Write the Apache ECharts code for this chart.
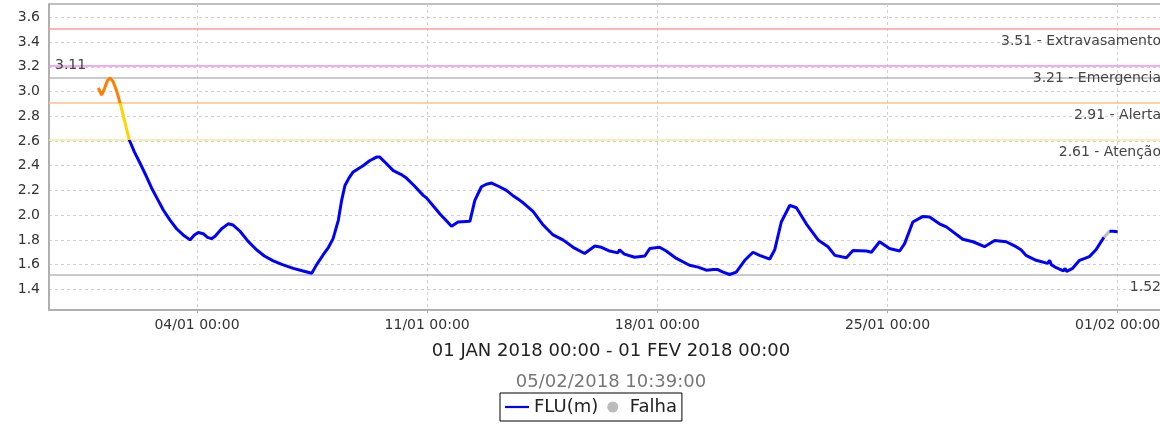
<!DOCTYPE html>
<html>
<head>
<meta charset="utf-8">
<script src="https://cdn.jsdelivr.net/npm/echarts@6/dist/echarts.min.js"></script>
<style>
html,body{margin:0;padding:0;background:#fff;}
#chart{width:1160px;height:428px;}
</style>
</head>
<body>
<div id="chart"></div>
<script>
// Days since 2018-01-01 00:00 and river level (m)
const fluDays = [0.00,0.05,0.10,0.18,0.28,0.36,0.45,0.55,0.66,0.80,0.94,1.10,1.27,1.45,1.62,1.80,1.98,2.18,2.38,2.58,2.79,2.92,3.04,3.19,3.32,3.44,3.55,3.75,3.95,4.10,4.31,4.55,4.81,5.05,5.32,5.60,5.93,6.20,6.49,6.64,6.84,7.00,7.14,7.30,7.40,7.50,7.62,7.75,8.05,8.25,8.46,8.56,8.75,8.97,9.20,9.37,9.60,9.88,9.98,10.20,10.39,10.60,10.74,10.94,11.30,11.45,11.65,11.80,11.96,12.20,12.41,12.60,12.82,12.92,13.22,13.53,13.83,14.13,14.44,14.79,15.10,15.30,15.55,15.80,15.85,16.00,16.31,16.62,16.77,17.07,17.27,17.58,17.98,18.24,18.49,18.70,18.84,19.00,19.20,19.40,19.66,19.91,20.11,20.42,20.57,20.77,21.03,21.23,21.53,21.89,22.19,22.40,22.75,22.95,23.36,23.51,23.76,24.06,24.37,24.52,24.77,25.08,25.28,25.58,25.79,26.29,26.60,26.95,27.26,27.61,27.91,28.06,28.21,28.52,28.87,28.93,28.98,29.13,29.35,29.40,29.45,29.63,29.84,30.14,30.34,30.58,30.66,30.75,30.85,31.00];
const fluLevels = [3.03,3.00,2.97,3.02,3.09,3.11,3.08,3.01,2.91,2.76,2.61,2.51,2.42,2.32,2.22,2.13,2.04,1.96,1.89,1.84,1.80,1.84,1.86,1.85,1.82,1.81,1.83,1.89,1.93,1.92,1.87,1.79,1.72,1.67,1.63,1.60,1.57,1.55,1.53,1.60,1.68,1.74,1.81,1.96,2.12,2.24,2.30,2.35,2.40,2.44,2.47,2.47,2.42,2.36,2.33,2.30,2.24,2.16,2.14,2.07,2.01,1.95,1.91,1.945,1.95,2.12,2.23,2.25,2.26,2.23,2.20,2.16,2.12,2.10,2.03,1.92,1.84,1.80,1.74,1.69,1.75,1.74,1.71,1.695,1.72,1.685,1.66,1.67,1.73,1.74,1.71,1.65,1.595,1.58,1.555,1.56,1.56,1.54,1.52,1.54,1.635,1.70,1.675,1.645,1.72,1.945,2.08,2.06,1.93,1.80,1.745,1.675,1.655,1.715,1.71,1.70,1.785,1.73,1.71,1.77,1.945,1.99,1.985,1.93,1.905,1.805,1.785,1.745,1.795,1.785,1.745,1.72,1.675,1.635,1.61,1.635,1.60,1.575,1.55,1.57,1.545,1.57,1.635,1.665,1.72,1.82,null,1.87,1.87,1.865];
const falhaDays = [30.58,30.75];
const falhaLevels = [1.82,1.87];

const yTicks = [1.4,1.6,1.8,2.0,2.2,2.4,2.6,2.8,3.0,3.2,3.4,3.6];
const xTickDates = ['2018-01-04 00:00','2018-01-11 00:00','2018-01-18 00:00','2018-01-25 00:00','2018-02-01 00:00'];
const xMin = '2017-12-30 12:00';
const xMax = '2018-02-02 12:00';
const yMin = 1.233, yMax = 3.708;

const thresholdValues = [3.51, 3.21, 2.91, 2.61];
const thresholdNames = ['Extravasamento','Emergencia','Alerta','Atenção'];
const thresholdColors = ['#ff9c9c','#f48cf4','#ffbf8a','#f6ea9a'];
const maxLevel = 3.11, minLevel = 1.52;

const titleText = '01 JAN 2018 00:00 - 01 FEV 2018 00:00';
const subText = '05/02/2018 10:39:00';

const FONT = 'DejaVu Sans';
function parseLocal(s){
  const [d,t] = s.split(' ');
  const [Y,M,D] = d.split('-').map(Number);
  const [h,m] = t.split(':').map(Number);
  return new Date(Y, M-1, D, h, m).getTime();
}
const base = parseLocal('2018-01-01 00:00');
const DAY = 86400000;
const fluData = fluDays.map((d,i)=>[base + d*DAY, fluLevels[i]]);
const falhaData = falhaDays.map((d,i)=>[base + d*DAY, falhaLevels[i]]);
const xTicks = xTickDates.map(parseLocal);
const pad = n => (n<10?'0':'')+n;

const markData = thresholdValues.map((v,i)=>({
  yAxis: v,
  lineStyle: {color: thresholdColors[i], width: 1.5, type: 'solid'},
  label: {show: true, position: 'insideEndBottom', formatter: v.toFixed(2)+' - '+thresholdNames[i]}
}));
markData.push({yAxis: maxLevel, lineStyle:{color:'#b8b8b8', width:1.5, type:'solid'},
  label:{show:true, position:'insideStartTop', formatter: maxLevel.toFixed(2)}});
markData.push({yAxis: minLevel, lineStyle:{color:'#b8b8b8', width:1.5, type:'solid'},
  label:{show:true, position:'insideEndBottom', formatter: minLevel.toFixed(2)}});

const chart = echarts.init(document.getElementById('chart'), null, {renderer:'canvas'});
chart.setOption({
  animation: false,
  textStyle: {fontFamily: FONT},
  title: [
    {text: titleText, left: 606, top: 337, textAlign: 'center',
     textStyle:{fontFamily: FONT, fontSize: 18, fontWeight:'normal', color:'#222'}},
    {text: subText, left: 606, top: 368, textAlign: 'center',
     textStyle:{fontFamily: FONT, fontSize: 18, fontWeight:'normal', color:'#777'}}
  ],
  legend: {
    left: 500, top: 393,
    data: [{name:'FLU(m)', icon:'path://M0,0h24v2.2h-24z'}, {name:'Falha', icon:'circle'}],
    itemWidth: 24, itemHeight: 11, itemGap: 9,
    borderColor: '#000', borderWidth: 1, padding: [5,5,5,5],
    textStyle: {fontFamily: FONT, fontSize: 18, color:'#222'}
  },
  grid: {left: 49, top: 4, width: 1118, height: 306, show: true, borderColor:'#aaa', borderWidth: 1.5,
         outerBoundsMode: 'none', containLabel: false},
  xAxis: {
    type: 'value', min: parseLocal(xMin), max: parseLocal(xMax),
    axisLine: {show: true, lineStyle:{color:'#aaa', width:1.5}},
    axisTick: {show: true, customValues: xTicks, length: 3, lineStyle:{color:'#aaa'}},
    axisLabel: {customValues: xTicks, fontFamily: FONT, fontSize: 14, color:'#333', margin: 8,
      formatter: v => { const d = new Date(v); return pad(d.getDate())+'/'+pad(d.getMonth()+1)+' '+pad(d.getHours())+':'+pad(d.getMinutes()); }},
    splitLine: {show: true, lineStyle:{color:'#d0d0d0', type:[3,3], width:1}}
  },
  yAxis: {
    type: 'value', min: yMin, max: yMax,
    axisLine: {show: true, lineStyle:{color:'#aaa', width:1.5}},
    axisTick: {show: false, customValues: yTicks},
    axisLabel: {customValues: yTicks, fontFamily: FONT, fontSize: 14, color:'#333', margin: 9,
      formatter: v => v.toFixed(1)},
    splitLine: {show: true, lineStyle:{color:'#d0d0d0', type:[3,3], width:1}}
  },
  visualMap: {
    type: 'piecewise', show: false, seriesIndex: 0, dimension: 1,
    pieces: [
      {lte: 2.61, color:'#0000ff'},
      {gt: 2.61, lte: 2.91, color:'#ffd400'},
      {gt: 2.91, color:'#ff7f00'}
    ]
  },
  series: [
    {name:'FLU(m)', type:'line', data: fluData, symbol:'none', connectNulls:false,
     color:'#0000ff', lineStyle:{width:3}, z: 5},
    {name:'Falha', type:'line', data: falhaData, symbol:'none', color:'#bbbbbb',
     lineStyle:{width:3, color:'#bbbbbb'}, itemStyle:{color:'#bbbbbb'}, z: 4},
    {name:'limits', type:'line', data: [], silent: true,
     markLine: {symbol:'none', silent:true, animation:false,
       label:{fontFamily: FONT, fontSize: 14, color:'#444', distance: 6},
       data: markData}}
  ]
});
</script>
</body>
</html>
